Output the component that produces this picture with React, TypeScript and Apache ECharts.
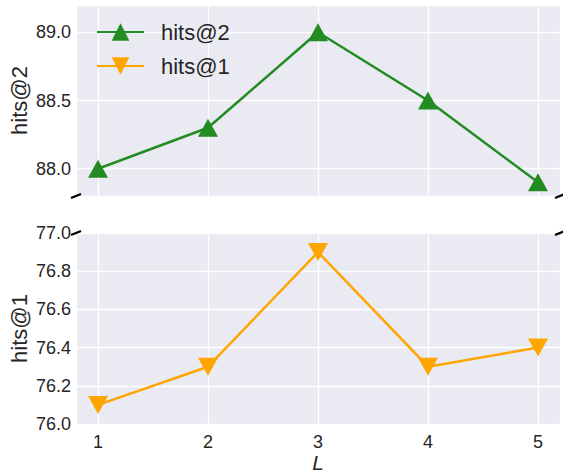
import React, { useEffect, useRef } from "react";
import * as echarts from "echarts";

const L = [1, 2, 3, 4, 5];
const hits2 = [88.0, 88.3, 89.0, 88.5, 87.9];
const hits1 = [76.1, 76.3, 76.9, 76.3, 76.4];

const W = 563;
const H = 473;
const GL = 76;
const GW = 484;
const TOP1 = 5;
const TOP2 = 233;
const GH = 191;
const FONT = "'Liberation Sans', Arial, sans-serif";
const TXT = "#262626";

export default function App() {
  const ref = useRef<HTMLDivElement>(null);
  useEffect(() => {
    if (!ref.current) return;
    const chart = echarts.init(ref.current, undefined, { renderer: "svg" });
    const xCommon = {
      type: "value",
      min: 0.8,
      max: 5.2,
      minInterval: 1,
      maxInterval: 1,
      axisLine: { show: false },
      axisTick: { show: false },
      splitLine: { show: true, lineStyle: { color: "#ffffff", width: 1.3 } },
    };
    const yCommon = {
      type: "value",
      nameLocation: "middle",
      nameGap: 46,
      nameMoveOverlap: false,
      nameTextStyle: { fontSize: 22, color: TXT, fontFamily: FONT },
      axisLine: { show: false },
      axisTick: { show: false },
      splitLine: { show: true, lineStyle: { color: "#ffffff", width: 1.3 } },
      axisLabel: {
        fontSize: 18,
        color: TXT,
        fontFamily: FONT,
        margin: 5,
        showMinLabel: false,
        showMaxLabel: false,
        formatter: (v: number) => v.toFixed(1),
      },
    };
    const brk = (x: number, y: number) => ({
      type: "line",
      shape: { x1: x - 5, y1: y + 2, x2: x + 5, y2: y - 2 },
      style: { stroke: "#000", lineWidth: 2.4 },
      z: 100,
    });
    const gridCommon = {
      left: GL,
      width: GW,
      height: GH,
      show: true,
      backgroundColor: "#EAEAF2",
      borderWidth: 0,
      outerBoundsMode: "none",
      containLabel: false,
    };
    chart.setOption({
      animation: false,
      backgroundColor: "#ffffff",
      grid: [
        { ...gridCommon, top: TOP1 },
        { ...gridCommon, top: TOP2 },
      ],
      xAxis: [
        { ...xCommon, gridIndex: 0, axisLabel: { show: false } },
        {
          ...xCommon,
          gridIndex: 1,
          name: "L",
          nameLocation: "middle",
          nameGap: 25,
          nameTextStyle: {
            fontSize: 21,
            lineHeight: 18,
            color: TXT,
            fontFamily: FONT,
            fontStyle: "italic",
          },
          axisLabel: {
            fontSize: 18,
            color: TXT,
            fontFamily: FONT,
            margin: 9,
            showMinLabel: false,
            showMaxLabel: false,
          },
        },
      ],
      yAxis: [
        { ...yCommon, gridIndex: 0, name: "hits@2", min: 87.8, max: 89.2, minInterval: 0.5, maxInterval: 0.5 },
        { ...yCommon, gridIndex: 1, name: "hits@1", min: 76.0, max: 77.0, interval: 0.2,
          axisLabel: { ...yCommon.axisLabel, showMinLabel: true, showMaxLabel: true } },
      ],
      legend: {
        orient: "vertical",
        left: 96,
        top: 21,
        padding: 0,
        itemWidth: 47,
        itemHeight: 22,
        itemGap: 12,
        textStyle: { fontSize: 22, color: TXT, fontFamily: FONT, lineHeight: 22, padding: [0, 0, 0, 12] },
        data: ["hits@2", "hits@1"],
      },
      series: [
        {
          name: "hits@2",
          type: "line",
          xAxisIndex: 0,
          yAxisIndex: 0,
          data: L.map((x, i) => [x, hits2[i]]),
          symbol: "triangle",
          symbolSize: [20, 18],
          lineStyle: { color: "#228B22", width: 2.5 },
          itemStyle: { color: "#228B22" },
        },
        {
          name: "hits@1",
          type: "line",
          xAxisIndex: 1,
          yAxisIndex: 1,
          data: L.map((x, i) => [x, hits1[i]]),
          symbol: "triangle",
          symbolRotate: 180,
          symbolSize: [20, 18],
          lineStyle: { color: "#FFA500", width: 2.5 },
          itemStyle: { color: "#FFA500" },
        },
      ],
      graphic: [
        brk(GL, TOP1 + GH),
        brk(GL + GW, TOP1 + GH),
        brk(GL, TOP2),
        brk(GL + GW, TOP2),
      ],
    });
    return () => chart.dispose();
  }, []);
  return (
    <div
      ref={ref}
      style={{ position: "fixed", left: 0, top: 0, width: W, height: H }}
    />
  );
}
